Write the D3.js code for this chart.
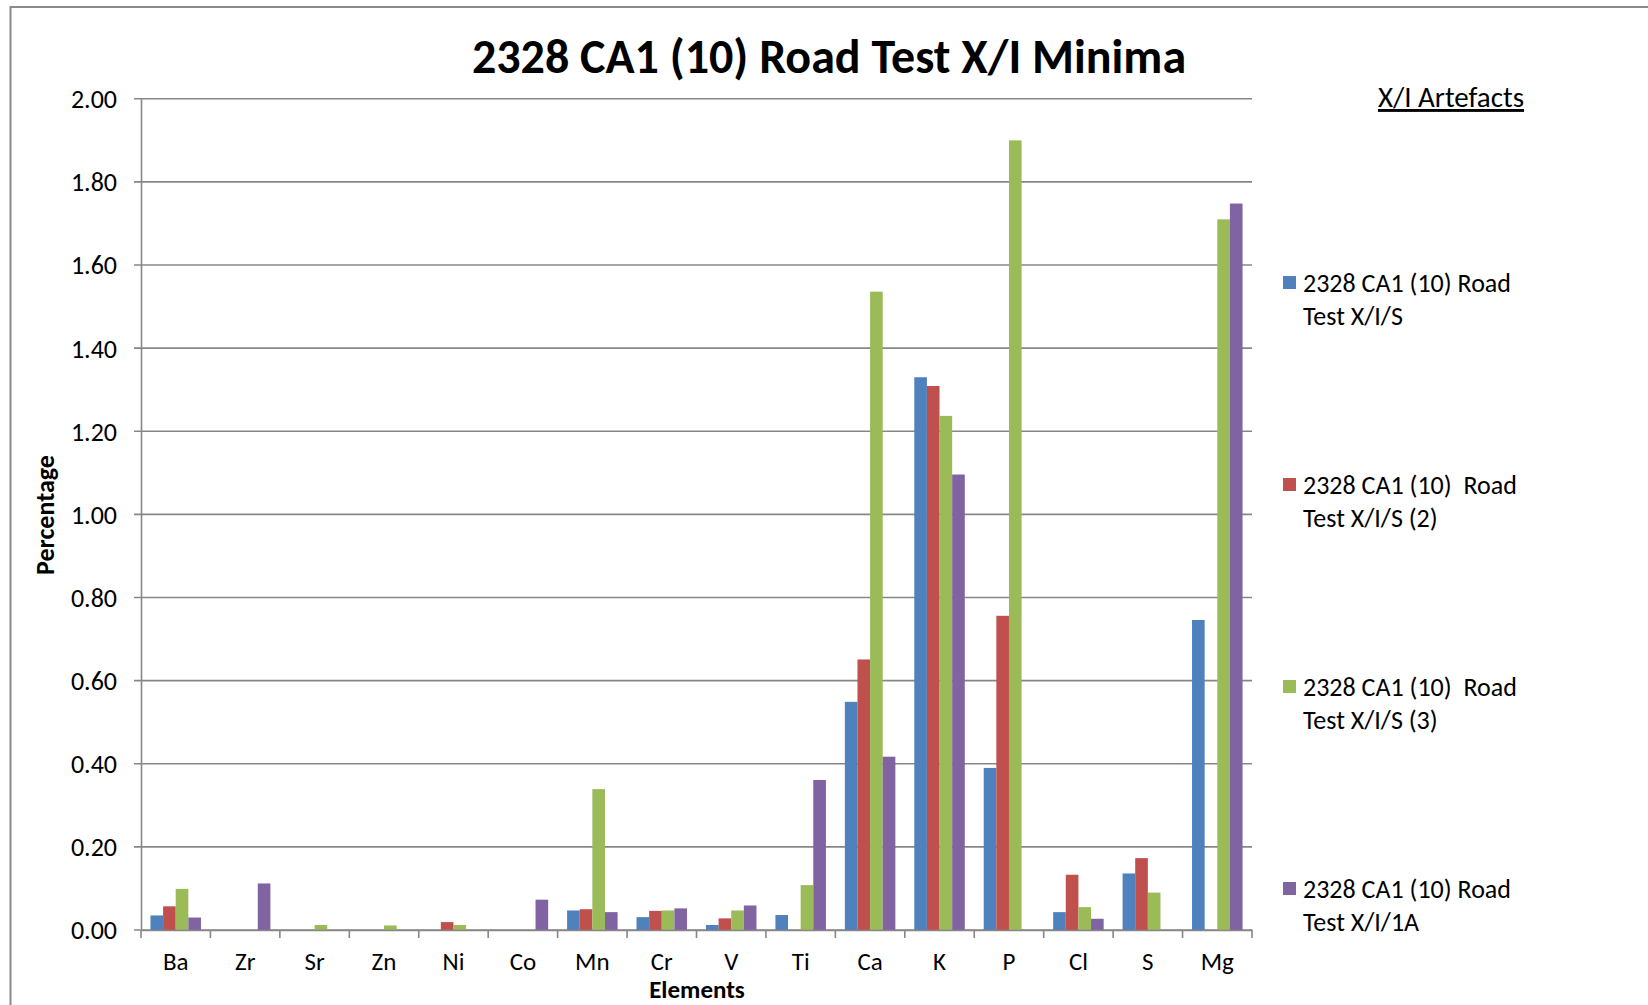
<!DOCTYPE html>
<html><head><meta charset="utf-8">
<script src="https://cdn.jsdelivr.net/npm/d3@7"></script>
<style>
html,body{margin:0;padding:0;background:#fff;}
svg{display:block;}
text{font-family:Carlito, Calibri, "Liberation Sans Narrow", Lato, sans-serif;fill:#000;}
</style></head>
<body>
<svg id="chart" width="1648" height="1005"></svg>
<script>
const categories = ["Ba","Zr","Sr","Zn","Ni","Co","Mn","Cr","V","Ti","Ca","K","P","Cl","S","Mg"];
const seriesNames = ["2328 CA1 (10) Road Test X/I/S","2328 CA1 (10)  Road Test X/I/S (2)","2328 CA1 (10)  Road Test X/I/S (3)","2328 CA1 (10) Road Test X/I/1A"];
const legendLines = [["2328 CA1 (10) Road","Test X/I/S"],["2328 CA1 (10)  Road","Test X/I/S (2)"],["2328 CA1 (10)  Road","Test X/I/S (3)"],["2328 CA1 (10) Road","Test X/I/1A"]];
const seriesXIS   = [0.035,0,0,0,0,0,0.047,0.031,0.012,0.036,0.549,1.330,0.390,0.043,0.136,0.746];
const seriesXIS2  = [0.057,0,0,0,0.019,0,0.050,0.046,0.028,0,0.651,1.309,0.756,0.133,0.173,0];
const seriesXIS3  = [0.099,0,0.012,0.011,0.012,0,0.339,0.047,0.047,0.108,1.536,1.237,1.900,0.055,0.090,1.710];
const seriesXI1A  = [0.030,0.112,0,0,0,0.073,0.043,0.052,0.059,0.361,0.417,1.096,0,0.027,0,1.748];
const yTicks = [0,0.2,0.4,0.6,0.8,1.0,1.2,1.4,1.6,1.8,2.0];
const colors = ["#4F81BD","#C0504D","#9BBB59","#8064A2"];
const title = "2328 CA1 (10) Road Test X/I Minima";
const legendTitle = "X/I Artefacts";

const series = [seriesXIS, seriesXIS2, seriesXIS3, seriesXI1A];
const svg = d3.select("#chart");
const L = 141, R = 1252, T = 98.8, B = 930;

// outer border
svg.append("path").attr("d","M10.5,1005 L10.5,7 L1648,7").attr("fill","none").attr("stroke","#8a8a8a").attr("stroke-width",2);

const x = d3.scaleBand().domain(categories).range([L,R]).padding(0);
const y = d3.scaleLinear().domain([0,2]).range([B,T]);
const bw = x.bandwidth()/5.5;

// gridlines
svg.append("g").selectAll("line").data(yTicks).join("line")
  .attr("x1",L-7).attr("x2",R).attr("y1",d=>y(d)).attr("y2",d=>y(d))
  .attr("stroke","#878787").attr("stroke-width",1.6);

// bars
const flat = [];
categories.forEach((c,i)=>series.forEach((s,j)=>{ if(s[i]>0) flat.push({c,j,v:s[i]}); }));
svg.append("g").selectAll("rect").data(flat).join("rect")
  .attr("x",d=>x(d.c)+0.75*bw+d.j*bw)
  .attr("y",d=>y(d.v))
  .attr("width",bw)
  .attr("height",d=>B-y(d.v))
  .attr("fill",d=>colors[d.j]);

// y axis
const yAxis = svg.append("g").attr("transform",`translate(${L},0)`)
  .call(d3.axisLeft(y).tickValues(yTicks).tickFormat(d3.format(".2f")).tickSize(0).tickPadding(24));
yAxis.select(".domain").attr("stroke","#878787").attr("stroke-width",1.6);
yAxis.selectAll("text").attr("font-size",26).attr("font-family",null).attr("dy","0.34em");

// x axis
const xAxis = svg.append("g").attr("transform",`translate(0,${B})`)
  .call(d3.axisBottom(x).tickSize(0).tickPadding(22));
xAxis.select(".domain").attr("stroke","#878787").attr("stroke-width",1.6);
xAxis.selectAll("text").attr("font-size",25).attr("font-family",null);
svg.append("g").selectAll("line").data(d3.range(categories.length+1)).join("line")
  .attr("x1",i=>L+i*x.bandwidth()).attr("x2",i=>L+i*x.bandwidth())
  .attr("y1",B).attr("y2",B+8).attr("stroke","#878787").attr("stroke-width",1.6);

// title
svg.append("text").attr("x",829).attr("y",73).attr("text-anchor","middle")
  .attr("font-size",48).attr("font-weight","bold").text(title);

// axis titles
svg.append("text").attr("x",697).attr("y",998).attr("text-anchor","middle")
  .attr("font-size",25).attr("font-weight","bold").text("Elements");
svg.append("text").attr("transform","translate(54,515) rotate(-90)").attr("text-anchor","middle")
  .attr("font-size",26).attr("font-weight","bold").text("Percentage");

// legend
svg.append("text").attr("x",1451).attr("y",107).attr("text-anchor","middle")
  .attr("font-size",29).attr("text-decoration","underline").text(legendTitle);
const lg = svg.append("g").selectAll("g").data(seriesNames).join("g")
  .attr("transform",(d,i)=>`translate(1283,${283+i*202})`);
lg.append("rect").attr("x",0).attr("y",-7).attr("width",13).attr("height",13).attr("fill",(d,i)=>colors[i]);
lg.append("text").attr("x",20).attr("y",9).attr("font-size",26).attr("xml:space","preserve").text((d,i)=>legendLines[i][0]);
lg.append("text").attr("x",20).attr("y",42).attr("font-size",26).attr("xml:space","preserve").text((d,i)=>legendLines[i][1]);
</script>
</body></html>
